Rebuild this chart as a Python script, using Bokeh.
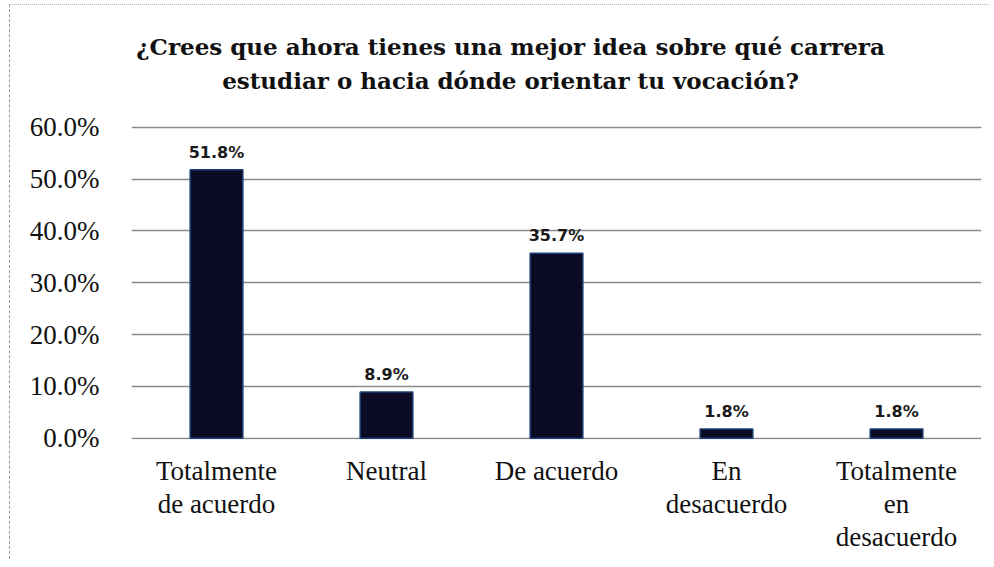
from bokeh.plotting import figure
from bokeh.models import ColumnDataSource, FixedTicker, PrintfTickFormatter, LabelSet
from bokeh.core.properties import value
from bokeh.embed import file_html
from bokeh.resources import INLINE

categories = ["Totalmente\nde acuerdo", "Neutral", "De acuerdo", "En\ndesacuerdo", "Totalmente\nen\ndesacuerdo"]
values = [51.8, 8.9, 35.7, 1.8, 1.8]
y_ticks = [0, 10, 20, 30, 40, 50, 60]
title_lines = ["¿Crees que ahora tienes una mejor idea sobre qué carrera",
               "estudiar o hacia dónde orientar tu vocación?"]

labels = [f"{v:.1f}%" for v in values]
src = ColumnDataSource(dict(cat=categories, val=values, lab=labels))

p = figure(x_range=categories, y_range=(-0.25, 81.6), width=980, height=555,
           output_backend="svg", toolbar_location=None,
           min_border_left=121, min_border_right=9, min_border_top=10, min_border_bottom=121,
           styles={"border-left": "1px dashed #9a9a9a", "border-top": "1px dotted #b5b5b5",
                   "margin-left": "9px", "margin-top": "4px"})
p.outline_line_color = None
p.background_fill_color = "white"
p.border_fill_color = "white"

# title placed inside the (extended) frame, centred a little left of the middle category
title_src = ColumnDataSource(dict(x=[categories[2], categories[2]], y=[75.6, 69.0], t=title_lines))
p.add_layout(LabelSet(x="x", y="y", text="t", source=title_src, x_offset=-46,
                      text_align="center", text_baseline="middle",
                      text_font=value("DejaVu Serif"), text_font_style="bold",
                      text_font_size="23px", text_color="#111111"))

p.vbar(x="cat", top="val", width=0.31, source=src, fill_color="#0b0b26",
       line_color="#1d3f73", line_width=1.5)

p.add_layout(LabelSet(x="cat", y="val", text="lab", source=src, y_offset=12,
                      text_align="center", text_baseline="alphabetic",
                      text_font=value("DejaVu Sans"), text_font_style="bold",
                      text_font_size="16px", text_color="#1a1a1a"))

p.yaxis.ticker = FixedTicker(ticks=y_ticks)
p.yaxis.formatter = PrintfTickFormatter(format="%.1f%%")
for ax in (p.xaxis, p.yaxis):
    ax.axis_line_color = None
    ax.major_tick_line_color = None
    ax.minor_tick_line_color = None
    ax.major_label_text_font = "Liberation Serif"
    ax.major_label_text_color = "#111111"
p.yaxis.major_label_text_font_size = "27px"
p.yaxis.major_label_standoff = 26
p.xaxis.major_label_text_font_size = "27px"
p.xaxis.major_label_standoff = 10
p.xaxis.major_label_text_line_height = 1.1

p.xgrid.grid_line_color = None
p.ygrid.ticker = FixedTicker(ticks=y_ticks)
p.ygrid.grid_line_color = "#8a8a8a"
p.ygrid.grid_line_width = 1.5

p.x_range.range_padding = 0

open("out.html", "w").write(file_html(p, INLINE))
